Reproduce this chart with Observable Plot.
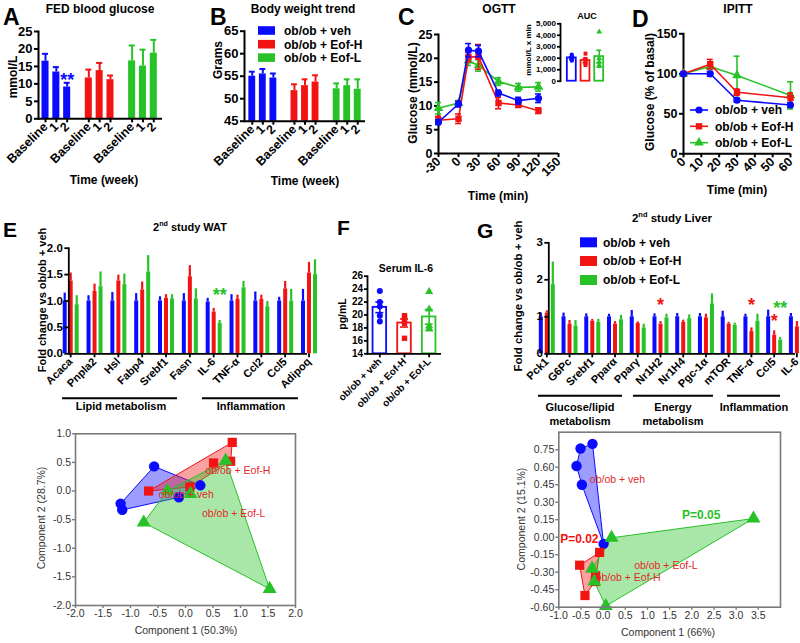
<!DOCTYPE html>
<html><head><meta charset="utf-8">
<script src="https://cdn.jsdelivr.net/npm/d3@7"></script>
<script src="https://cdn.jsdelivr.net/npm/@observablehq/plot@0.6"></script>
<style>
body{margin:0;background:#fff}
#root{position:relative;width:800px;height:643px;overflow:hidden;background:#fff}
#root svg{position:absolute;overflow:visible}
</style>
</head><body><div id="root"></div>
<script>
// ---------------- DATA ----------------
const seriesNames = ["ob/ob + veh", "ob/ob + Eof-H", "ob/ob + Eof-L"];
const seriesColors = ["#0a0aff", "#f21313", "#27c227"];
const seriesSymbols = ["circle", "square", "triangle"];

// A: fed blood glucose (mmol/L)
const weekLabels = ["Baseline", "1", "2"];
const fedGlucoseMean = [[16.5, 13.4, 9.1], [11.7, 13.8, 11.2], [16.6, 15.1, 18.8]];
const fedGlucoseSem = [[2.1, 1.4, 1.2], [2.4, 2.2, 1.2], [4.4, 4.7, 3.8]];
const fedGlucoseTicks = [0, 5, 10, 15, 20, 25];

// B: body weight (g)
const bodyWeightMean = [[55.0, 55.5, 54.6], [51.8, 52.9, 53.7], [52.2, 52.9, 52.1]];
const bodyWeightSem = [[1.0, 1.1, 1.0], [1.4, 1.4, 1.5], [1.2, 1.4, 2.2]];
const bodyWeightTicks = [45, 50, 55, 60, 65];

// C: OGTT (mmol/L)
const ogttTimes = [-30, 0, 15, 30, 60, 90, 120];
const ogttMean = [[6.6, 10.4, 21.7, 21.5, 12.7, 11.1, 11.6], [7.0, 7.3, 20.3, 20.3, 10.6, 10.2, 9.0], [9.5, 10.6, 19.5, 18.5, 15.1, 13.9, 14.0]];
const ogttSem = [[0.5, 0.6, 1.4, 1.2, 0.6, 0.7, 0.9], [0.8, 1.0, 1.0, 2.6, 1.2, 0.5, 0.6], [1.2, 0.5, 1.0, 1.2, 0.8, 0.8, 0.9]];
const ogttXTicks = [-30, 0, 30, 60, 90, 120, 150];
const ogttYTicks = [0, 5, 10, 15, 20, 25];
const aucValues = [[2300, 2150, 2000, 1900, 1800], [2400, 1950, 1700, 1550, 1400], [4300, 2000, 1700, 1400, 1300]];
const aucTicks = [0, 1000, 2000, 3000, 4000, 5000];

// D: IPITT (% of basal)
const ipittTimes = [0, 15, 30, 60];
const ipittMean = [[100, 100, 67, 61], [100, 112, 77, 70], [100, 109, 98, 73]];
const ipittSem = [[0, 3, 2, 3], [0, 6, 4, 6], [0, 3, 24, 17]];
const ipittXTicks = [0, 10, 20, 30, 40, 50, 60];
const ipittYTicks = [0, 50, 100, 150];

// E: WAT fold change
const watGenes = ["Acaca", "Pnpla2", "Hsl", "Fabp4", "Srebf1", "Fasn", "IL-6", "TNF-α", "Ccl2", "Ccl5", "Adipoq"];
const watMean = [
  [1.0, 1.0, 1.0, 1.0, 1.0, 1.0, 0.98, 1.0, 1.0, 1.0, 1.0],
  [1.38, 1.18, 1.38, 1.21, 1.05, 1.46, 0.79, 1.03, 1.03, 1.23, 1.53],
  [0.93, 1.27, 1.31, 1.55, 1.04, 1.04, 0.58, 1.25, 0.89, 1.0, 1.5]];
const watSem = [
  [0.15, 0.1, 0.16, 0.14, 0.08, 0.14, 0.07, 0.12, 0.17, 0.07, 0.22],
  [0.15, 0.14, 0.11, 0.15, 0.07, 0.21, 0.07, 0.08, 0.08, 0.14, 0.2],
  [0.17, 0.28, 0.2, 0.31, 0.08, 0.19, 0.05, 0.12, 0.1, 0.22, 0.28]];
const watTicks = [0, 0.5, 1, 1.5, 2];
const watStars = [{gene: "IL-6", si: 2, y: 1.10, text: "**"}];

// F: serum IL-6 (pg/mL)
const il6Values = [[23.7, 22.0, 21.3, 19.9, 19.0], [19.9, 19.6, 19.2, 18.7, 16.4], [23.6, 20.9, 18.3, 17.9, 17.8]];
const il6Ticks = [14, 16, 18, 20, 22, 24, 26];

// G: liver fold change
const liverGenes = ["Pck1", "G6Pc", "Srebf1", "Pparα", "Pparγ", "Nr1H2", "Nr1H4", "Pgc-1α", "mTOR", "TNF-α", "Ccl5", "IL-6"];
const liverMean = [
  [1, 1, 1, 1, 1, 1, 1, 1, 1, 1, 1, 1],
  [1.1, 0.8, 0.88, 0.8, 0.82, 0.8, 0.85, 0.97, 0.8, 0.6, 0.5, 0.73],
  [1.87, 0.75, 0.85, 0.92, 0.7, 0.97, 0.95, 1.35, 0.77, 0.88, 0.37, 0.9]];
const liverSem = [
  [0.1, 0.1, 0.08, 0.07, 0.17, 0.08, 0.09, 0.09, 0.15, 0.07, 0.18, 0.09],
  [0.06, 0.1, 0.05, 0.07, 0.04, 0.07, 0.06, 0.1, 0.05, 0.1, 0.12, 0.14],
  [0.61, 0.15, 0.08, 0.12, 0.1, 0.1, 0.1, 0.27, 0.06, 0.19, 0.07, 0.27]];
const liverTicks = [0, 1, 2, 3];
const liverStars = [
  {gene: "Nr1H2", si: 1, y: 1.30, text: "*"}, {gene: "TNF-α", si: 1, y: 1.30, text: "*"},
  {gene: "Ccl5", si: 1, y: 0.89, text: "*"}, {gene: "Ccl5", si: 2, y: 1.24, text: "**"}];

// PCA WAT
const pcaWatPoints = [
  [[-0.57, 0.43], [-1.18, -0.22], [-1.15, -0.33], [-0.12, -0.11], [0.27, 0.1]],
  [[-0.67, 0.0], [0.08, 0.07], [0.51, 0.49], [0.85, 0.85], [0.82, 0.52]],
  [[-0.33, 0.0], [0.09, -0.05], [0.73, 0.53], [-0.76, -0.55], [1.53, -1.71]]];
const pcaWatLabels = [{text: "ob/ob + Eof-H", x: 0.36, y: 0.35}, {text: "ob/ob + veh", x: -0.49, y: -0.07}, {text: "ob/ob + Eof-L", x: 0.3, y: -0.39}];
const pcaWatXTicks = [-2, -1.5, -1, -0.5, 0, 0.5, 1, 1.5, 2];
const pcaWatYTicks = [-2, -1.5, -1, -0.5, 0, 0.5, 1];

// PCA liver
const pcaLiverPoints = [
  [[-0.51, 0.76], [-0.24, 0.80], [-0.6, 0.61], [-0.48, 0.45], [0.01, -0.057]],
  [[-0.53, -0.24], [-0.41, -0.5], [-0.08, -0.13], [-0.18, -0.38], [-0.17, -0.33]],
  [[0.19, -0.005], [3.39, 0.16], [0.06, -0.59], [-0.25, -0.27], [-0.2, -0.38]]];
const pcaLiverLabels = [{text: "ob/ob + veh", x: -0.3, y: 0.49}, {text: "ob/ob + Eof-L", x: 0.7, y: -0.24}, {text: "ob/ob + Eof-H", x: -0.17, y: -0.35}];
const pcaLiverPValues = [{text: "P=0.05", x: 1.78, y: 0.19, si: 2}, {text: "P=0.02", x: -0.97, y: -0.02, si: 1}];
const pcaLiverXTicks = [-1, -0.5, 0, 0.5, 1, 1.5, 2, 2.5, 3, 3.5];
const pcaLiverYTicks = [-0.6, -0.45, -0.3, -0.15, 0, 0.15, 0.3, 0.45, 0.6, 0.75];

// ---------------- HELPERS ----------------
const root = document.getElementById("root");
const FONT = "'Liberation Sans', Arial, Helvetica, sans-serif";
const styleOf = (size, weight = "bold") => ({fontFamily: FONT, fontSize: size + "px", fontWeight: weight, background: "transparent", color: "#000", overflow: "visible"});
const colorScale = {domain: seriesNames, range: seriesColors};
const symbolScale = {domain: seriesNames, range: seriesSymbols};
function put(svg, left, top) { svg.style.position = "absolute"; svg.style.left = left + "px"; svg.style.top = top + "px"; root.append(svg); }

function weekBars({means, sems, ticks, yDomain, width, height, marginLeft, marginRight, marginTop, marginBottom, xRange, stars = []}) {
  const keys = [];
  seriesNames.forEach((s, i) => { weekLabels.forEach(t => keys.push(s + "|" + t)); if (i < seriesNames.length - 1) keys.push("gap" + i); });
  const realKeys = keys.filter(k => !k.startsWith("gap"));
  const rows = seriesNames.flatMap((s, i) => weekLabels.map((t, j) => ({key: s + "|" + t, series: s, mean: means[i][j], sem: sems[i][j]})));
  const base = yDomain[0];
  return Plot.plot({
    width, height, marginLeft, marginRight, marginTop, marginBottom, style: styleOf(12),
    x: {domain: keys, range: xRange, paddingInner: 0.35, paddingOuter: 0.175, round: false},
    y: {domain: yDomain},
    color: colorScale,
    marks: [
      Plot.barY(rows, {x: "key", y1: () => base, y2: "mean", fill: "series"}),
      Plot.ruleX(rows, {x: "key", y1: "mean", y2: d => d.mean + d.sem, stroke: "series", strokeWidth: 2}),
      Plot.tickY(rows, {x: "key", y: d => d.mean + d.sem, stroke: "series", strokeWidth: 2, insetLeft: 0.5, insetRight: 0.5}),
      Plot.frame({anchor: "left", strokeWidth: 2}),
      Plot.ruleY([base], {strokeWidth: 2}),
      Plot.axisY({ticks, tickSize: 4, tickPadding: 2, strokeWidth: 2, label: null, fontSize: 13}),
      Plot.axisX({ticks: realKeys, tickFormat: k => k.split("|")[1], tickRotate: -45, tickSize: 4, tickPadding: 2, strokeWidth: 2, label: null, fontSize: 12.5}),
      Plot.text(stars, {x: "key", y: "y", text: "text", fill: "series", fontSize: 18})
    ]
  });
}

function timeCourse({times, means, sems, xDomain, yDomain, xTicks, yTicks, width, height, marginLeft, marginRight, marginTop, marginBottom}) {
  const order = [2, 1, 0];
  const marks = [
    Plot.frame({anchor: "left", strokeWidth: 2}),
    Plot.ruleY([yDomain[0]], {strokeWidth: 2}),
    Plot.axisY({ticks: yTicks, tickSize: 4, tickPadding: 2, strokeWidth: 2, label: null, fontSize: 12.5}),
    Plot.axisX({ticks: xTicks, tickFormat: d => String(d), tickRotate: -45, tickSize: 4, tickPadding: 2, strokeWidth: 2, label: null, fontSize: 12.5})
  ];
  for (const i of order) {
    const rows = times.map((t, j) => ({series: seriesNames[i], t, m: means[i][j], e: sems[i][j]}));
    marks.push(
      Plot.line(rows, {x: "t", y: "m", stroke: "series", strokeWidth: 1.6}),
      Plot.ruleX(rows, {x: "t", y1: d => d.m - d.e, y2: d => d.m + d.e, stroke: "series", strokeWidth: 1.6}),
      Plot.ruleY(rows, {y: d => d.m + d.e, x1: "t", x2: "t", insetLeft: -3, insetRight: -3, stroke: "series", strokeWidth: 1.6}),
      Plot.ruleY(rows, {y: d => d.m - d.e, x1: "t", x2: "t", insetLeft: -3, insetRight: -3, stroke: "series", strokeWidth: 1.6}),
      Plot.dot(rows, {x: "t", y: "m", fill: "series", symbol: "series", r: 3.6})
    );
  }
  return Plot.plot({
    width, height, marginLeft, marginRight, marginTop, marginBottom, style: styleOf(12),
    x: {domain: xDomain}, y: {domain: yDomain}, color: colorScale, symbol: symbolScale, marks
  });
}

function dotBars({values, yDomain, ticks, width, height, marginLeft, marginRight, marginTop, marginBottom, xRange, fontSize, xLabels, r, capInset, paddingInner, paddingOuter, axisLine}) {
  const pts = seriesNames.flatMap((s, i) => values[i].map(v => ({series: s, v})));
  const stats = seriesNames.map((s, i) => ({series: s, m: d3.mean(values[i]), e: d3.deviation(values[i]) / Math.sqrt(values[i].length)}));
  const base = yDomain[0];
  const marks = [
    Plot.barY(stats, {x: "series", y1: () => base, y2: "m", stroke: "series", fill: "white", strokeWidth: 1.8}),
    Plot.ruleX(stats, {x: "series", y1: d => d.m - d.e, y2: d => d.m + d.e, stroke: "series", strokeWidth: 1.6}),
    Plot.tickY(stats, {x: "series", y: d => d.m + d.e, stroke: "series", strokeWidth: 1.6, insetLeft: capInset, insetRight: capInset}),
    Plot.tickY(stats, {x: "series", y: d => d.m - d.e, stroke: "series", strokeWidth: 1.6, insetLeft: capInset, insetRight: capInset}),
    Plot.dot(pts, {x: "series", y: "v", fill: "series", symbol: "series", r}),
    Plot.frame({anchor: "left", strokeWidth: 1.8}),
    Plot.axisY({ticks, tickSize: 3, tickPadding: 1.5, strokeWidth: 1.8, label: null, fontSize})
  ];
  if (axisLine) marks.push(Plot.ruleY([base], {strokeWidth: 1.8}));
  if (xLabels) marks.push(Plot.axisX({tickRotate: -45, tickSize: 4, tickPadding: 2, strokeWidth: 1.8, label: null, fontSize}));
  return Plot.plot({
    width, height, marginLeft, marginRight, marginTop, marginBottom, style: styleOf(fontSize),
    x: {domain: seriesNames, range: xRange, paddingInner, paddingOuter, round: false, axis: xLabels ? undefined : null},
    y: {domain: yDomain}, color: colorScale, symbol: symbolScale, marks
  });
}

function geneBars({genes, means, sems, ticks, yDomain, width, height, marginLeft, marginRight, marginTop, marginBottom, xRange, stars, tickFormat}) {
  const rows = seriesNames.flatMap((s, i) => genes.map((g, j) => ({gene: g, series: s, si: i, mean: means[i][j], sem: sems[i][j]})));
  const marks = [];
  seriesNames.forEach((s, i) => {
    const sub = rows.filter(d => d.si === i);
    const dx = (i - 1) * 6;
    marks.push(
      Plot.ruleX(sub, {x: "gene", y1: 0, y2: "mean", stroke: "series", strokeWidth: 4, dx}),
      Plot.ruleX(sub, {x: "gene", y1: "mean", y2: d => d.mean + d.sem, stroke: "series", strokeWidth: 2.2, dx})
    );
  });
  stars.forEach(st => marks.push(Plot.text([{...st, series: seriesNames[st.si]}], {x: "gene", y: "y", text: "text", fill: "series", fontSize: 18, dx: (st.si - 1) * 6})));
  marks.push(
    Plot.frame({anchor: "left", strokeWidth: 1.8}),
    Plot.ruleY([0], {strokeWidth: 1.8}),
    Plot.axisY({ticks, tickFormat, tickSize: 4, tickPadding: 2, strokeWidth: 1.8, label: null, fontSize: 11.5}),
    Plot.axisX({tickRotate: -45, tickSize: 4, tickPadding: 2, strokeWidth: 1.8, label: null, fontSize: 11})
  );
  return Plot.plot({
    width, height, marginLeft, marginRight, marginTop, marginBottom, style: styleOf(11),
    x: {domain: genes, range: xRange, padding: 0, round: false},
    y: {domain: yDomain}, color: colorScale, marks
  });
}

function pcaPlot({points, labels, pvalues = [], xDomain, yDomain, xTicks, yTicks, xFmt, yFmt, width, height, marginLeft, marginRight, marginTop, marginBottom}) {
  const rows = seriesNames.flatMap((s, i) => points[i].map(([x, y]) => ({series: s, x, y})));
  return Plot.plot({
    width, height, marginLeft, marginRight, marginTop, marginBottom, style: styleOf(10.5, "normal"),
    x: {domain: xDomain}, y: {domain: yDomain}, color: colorScale, symbol: symbolScale,
    marks: [
      Plot.hull(rows, {x: "x", y: "y", z: "series", fill: "series", fillOpacity: 0.4, stroke: "series", strokeWidth: 1}),
      Plot.dot(rows, {x: "x", y: "y", fill: "series", symbol: "series", r: 5.2}),
      Plot.text(labels, {x: "x", y: "y", text: "text", fill: "#e3282a", textAnchor: "start", fontSize: 10.5}),
      Plot.text(pvalues.map(p => ({...p, series: seriesNames[p.si]})), {x: "x", y: "y", text: "text", fill: "series", textAnchor: "start", fontSize: 12, fontWeight: "bold"}),
      Plot.frame({stroke: "#7a7a7a", strokeWidth: 1.6}),
      Plot.axisX({ticks: xTicks, tickFormat: xFmt, tickSize: 3, tickPadding: 1.5, stroke: "#7a7a7a", fill: "#333", strokeWidth: 1.4, label: null}),
      Plot.axisY({ticks: yTicks, tickFormat: yFmt, tickSize: 3, tickPadding: 1.5, stroke: "#7a7a7a", fill: "#333", strokeWidth: 1.4, label: null})
    ]
  });
}

// ---------------- PANELS ----------------
put(weekBars({means: fedGlucoseMean, sems: fedGlucoseSem, ticks: fedGlucoseTicks, yDomain: [0, 25],
  width: 170, height: 200, marginLeft: 38, marginRight: 8, marginTop: 31, marginBottom: 81.7, xRange: [39.6, 158.7],
  stars: [{key: seriesNames[0] + "|2", y: 11.0, text: "**", series: seriesNames[0]}]}), 0, 0);

put(weekBars({means: bodyWeightMean, sems: bodyWeightSem, ticks: bodyWeightTicks, yDomain: [45, 65],
  width: 180, height: 200, marginLeft: 54, marginRight: 5, marginTop: 30.7, marginBottom: 79.3, xRange: [56.5, 172.5]}), 190, 0);

put(timeCourse({times: ogttTimes, means: ogttMean, sems: ogttSem, xDomain: [-30, 150], yDomain: [0, 25], xTicks: ogttXTicks, yTicks: ogttYTicks,
  width: 185, height: 200, marginLeft: 58, marginRight: 7, marginTop: 34, marginBottom: 47}), 380, 0);

put(dotBars({values: aucValues, yDomain: [0, 5000], ticks: aucTicks, width: 90, height: 100, marginLeft: 40, marginRight: 0, marginTop: 23.3, marginBottom: 19.3,
  xRange: [40, 90], fontSize: 8, xLabels: false, r: 2.2, capInset: 2, paddingInner: 0.35, paddingOuter: 0.5, axisLine: false}), 520, 0);

put(timeCourse({times: ipittTimes, means: ipittMean, sems: ipittSem, xDomain: [0, 60], yDomain: [0, 150], xTicks: ipittXTicks, yTicks: ipittYTicks,
  width: 190, height: 200, marginLeft: 73, marginRight: 10, marginTop: 33.3, marginBottom: 46.7}), 610, 0);

put(geneBars({genes: watGenes, means: watMean, sems: watSem, ticks: watTicks, yDomain: [0, 2], tickFormat: d => d.toFixed(1),
  width: 320, height: 215, marginLeft: 68.3, marginRight: 13, marginTop: 62.7, marginBottom: 46.7, xRange: [70.2, 308.5], stars: watStars}), 0, 185);

put(dotBars({values: il6Values, yDomain: [14, 26], ticks: il6Ticks, width: 150, height: 215, marginLeft: 67, marginRight: 9, marginTop: 90.7, marginBottom: 46.7,
  xRange: [67, 141], fontSize: 10, xLabels: true, r: 3, capInset: 2.8, paddingInner: 0.45, paddingOuter: 0.225, axisLine: true}), 300, 185);

put(geneBars({genes: liverGenes, means: liverMean, sems: liverSem, ticks: liverTicks, yDomain: [0, 3], tickFormat: d => String(d),
  width: 330, height: 215, marginLeft: 78.3, marginRight: 5, marginTop: 57.3, marginBottom: 46.7, xRange: [76.3, 326.4], stars: liverStars}), 470, 185);

put(pcaPlot({points: pcaWatPoints, labels: pcaWatLabels, xDomain: [-2, 2], yDomain: [-2, 1], xTicks: pcaWatXTicks, yTicks: pcaWatYTicks,
  xFmt: d => d.toFixed(1), yFmt: d => d.toFixed(1), width: 380, height: 243, marginLeft: 75, marginRight: 85, marginTop: 33.3, marginBottom: 38}), 0, 400);

put(pcaPlot({points: pcaLiverPoints, labels: pcaLiverLabels, pvalues: pcaLiverPValues, xDomain: [-1, 4], yDomain: [-0.6, 0.9], xTicks: pcaLiverXTicks, yTicks: pcaLiverYTicks,
  xFmt: d => d.toFixed(1), yFmt: d => d.toFixed(2), width: 420, height: 243, marginLeft: 178.3, marginRight: 20, marginTop: 31.7, marginBottom: 36.3}), 380, 400);

// ---------------- ANNOTATIONS (titles, axis labels, legends) ----------------
const ov = d3.create("svg").attr("width", 800).attr("height", 643).style("left", "0px").style("top", "0px").style("pointer-events", "none");
root.prepend(ov.node());
function T(x, y, s, o = {}) {
  const t = ov.append("text").attr("x", x).attr("y", y).text(s)
    .attr("font-family", FONT).attr("font-size", o.size || 12).attr("font-weight", o.weight || "bold")
    .attr("text-anchor", o.anchor || "middle").attr("fill", o.fill || "#000");
  if (o.rotate) t.attr("transform", `rotate(${o.rotate},${x},${y})`);
  return t;
}
function sup(x, y, base, supText, rest, size) {
  const t = T(x, y, base, {size});
  t.append("tspan").attr("font-size", size * 0.65).attr("dy", -size * 0.42).text(supText);
  t.append("tspan").attr("dy", size * 0.42).text(rest);
}
function bracket(x1, x2, y) { ov.append("line").attr("x1", x1).attr("x2", x2).attr("y1", y).attr("y2", y).attr("stroke", "#000").attr("stroke-width", 2); }

// panel letters
[["A", 3, 25, 23], ["B", 210, 25, 23], ["C", 398, 25, 23], ["D", 632, 27, 23], ["E", 3, 237, 21], ["F", 337, 235, 21], ["G", 477, 238, 21]]
  .forEach(([s, x, y, sz]) => T(x, y, s, {size: sz, anchor: "start"}));

// A
T(100, 12.5, "FED blood glucose");
T(17, 77, "mmol/L", {rotate: -90});
T(104, 184, "Time (week)");
// B
T(303, 12.5, "Body weight trend");
T(222, 60, "Grams", {rotate: -90});
T(305, 185, "Time (week)");
seriesNames.forEach((s, i) => {
  const cy = [30.5, 44.2, 57.6][i];
  ov.append("rect").attr("x", 258).attr("y", cy - 4.3).attr("width", 17).attr("height", 8.6).attr("fill", seriesColors[i]);
  T(284, cy + 4.4, s, {anchor: "start"});
});
// C
T(499, 13, "OGTT");
T(417, 93, "Glucose (mmol/L)", {rotate: -90});
T(498, 200, "Time (min)");
T(587, 19, "AUC", {size: 9});
T(531, 50, "mmol/L x min", {size: 8, rotate: -90});
// D
T(738, 12.5, "IPITT");
T(654, 92, "Glucose (% of basal)", {rotate: -90});
T(737, 194, "Time (min)");
const symTypes = [d3.symbolCircle, d3.symbolSquare, d3.symbolTriangle];
seriesNames.forEach((s, i) => {
  const cy = [110, 126.3, 142.7][i];
  ov.append("line").attr("x1", 690).attr("x2", 708).attr("y1", cy).attr("y2", cy).attr("stroke", seriesColors[i]).attr("stroke-width", 1.6);
  ov.append("path").attr("d", d3.symbol(symTypes[i], Math.PI * 3.6 * 3.6)()).attr("transform", `translate(699,${cy})`).attr("fill", seriesColors[i]);
  T(715, cy + 4.4, s, {anchor: "start"});
});
// E
sup(190, 231, "2", "nd", " study WAT", 11);
T(46, 300, "Fold change vs ob/ob + veh", {size: 11, rotate: -90});
bracket(62, 177, 398.3); T(121, 410, "Lipid metabolism", {size: 11});
bracket(202, 298, 398.3); T(251, 410, "Inflammation", {size: 11});
// F
T(406, 272, "Serum IL-6", {size: 10.5});
T(346, 314, "pg/mL", {size: 10.5, rotate: -90});
// G
sup(672, 222, "2", "nd", " study Liver", 11.5);
T(522, 296, "Fold change vs ob/ob + veh", {size: 11.5, rotate: -90});
seriesNames.forEach((s, i) => {
  const cy = [242.3, 261, 280][i];
  ov.append("rect").attr("x", 580).attr("y", cy - 5).attr("width", 17).attr("height", 10).attr("fill", seriesColors[i]);
  T(603, cy + 4.4, s, {anchor: "start"});
});
bracket(538, 622, 395.7); T(580, 411, "Glucose/lipid", {size: 11}); T(580, 425, "metabolism", {size: 11});
bracket(633, 713, 395.7); T(673, 411, "Energy", {size: 11}); T(673, 425, "metabolism", {size: 11});
bracket(727, 780, 395.7); T(754, 411, "Inflammation", {size: 11});
// PCA axis titles
T(186, 634, "Component 1 (50.3%)", {size: 10.5, weight: "normal", fill: "#333"});
T(45, 518, "Component 2 (28.7%)", {size: 10.5, weight: "normal", fill: "#333", rotate: -90});
T(668, 636, "Component 1 (66%)", {size: 10.5, weight: "normal", fill: "#333"});
T(525, 519, "Component 2 (15.1%)", {size: 10.5, weight: "normal", fill: "#333", rotate: -90});
</script></body></html>
